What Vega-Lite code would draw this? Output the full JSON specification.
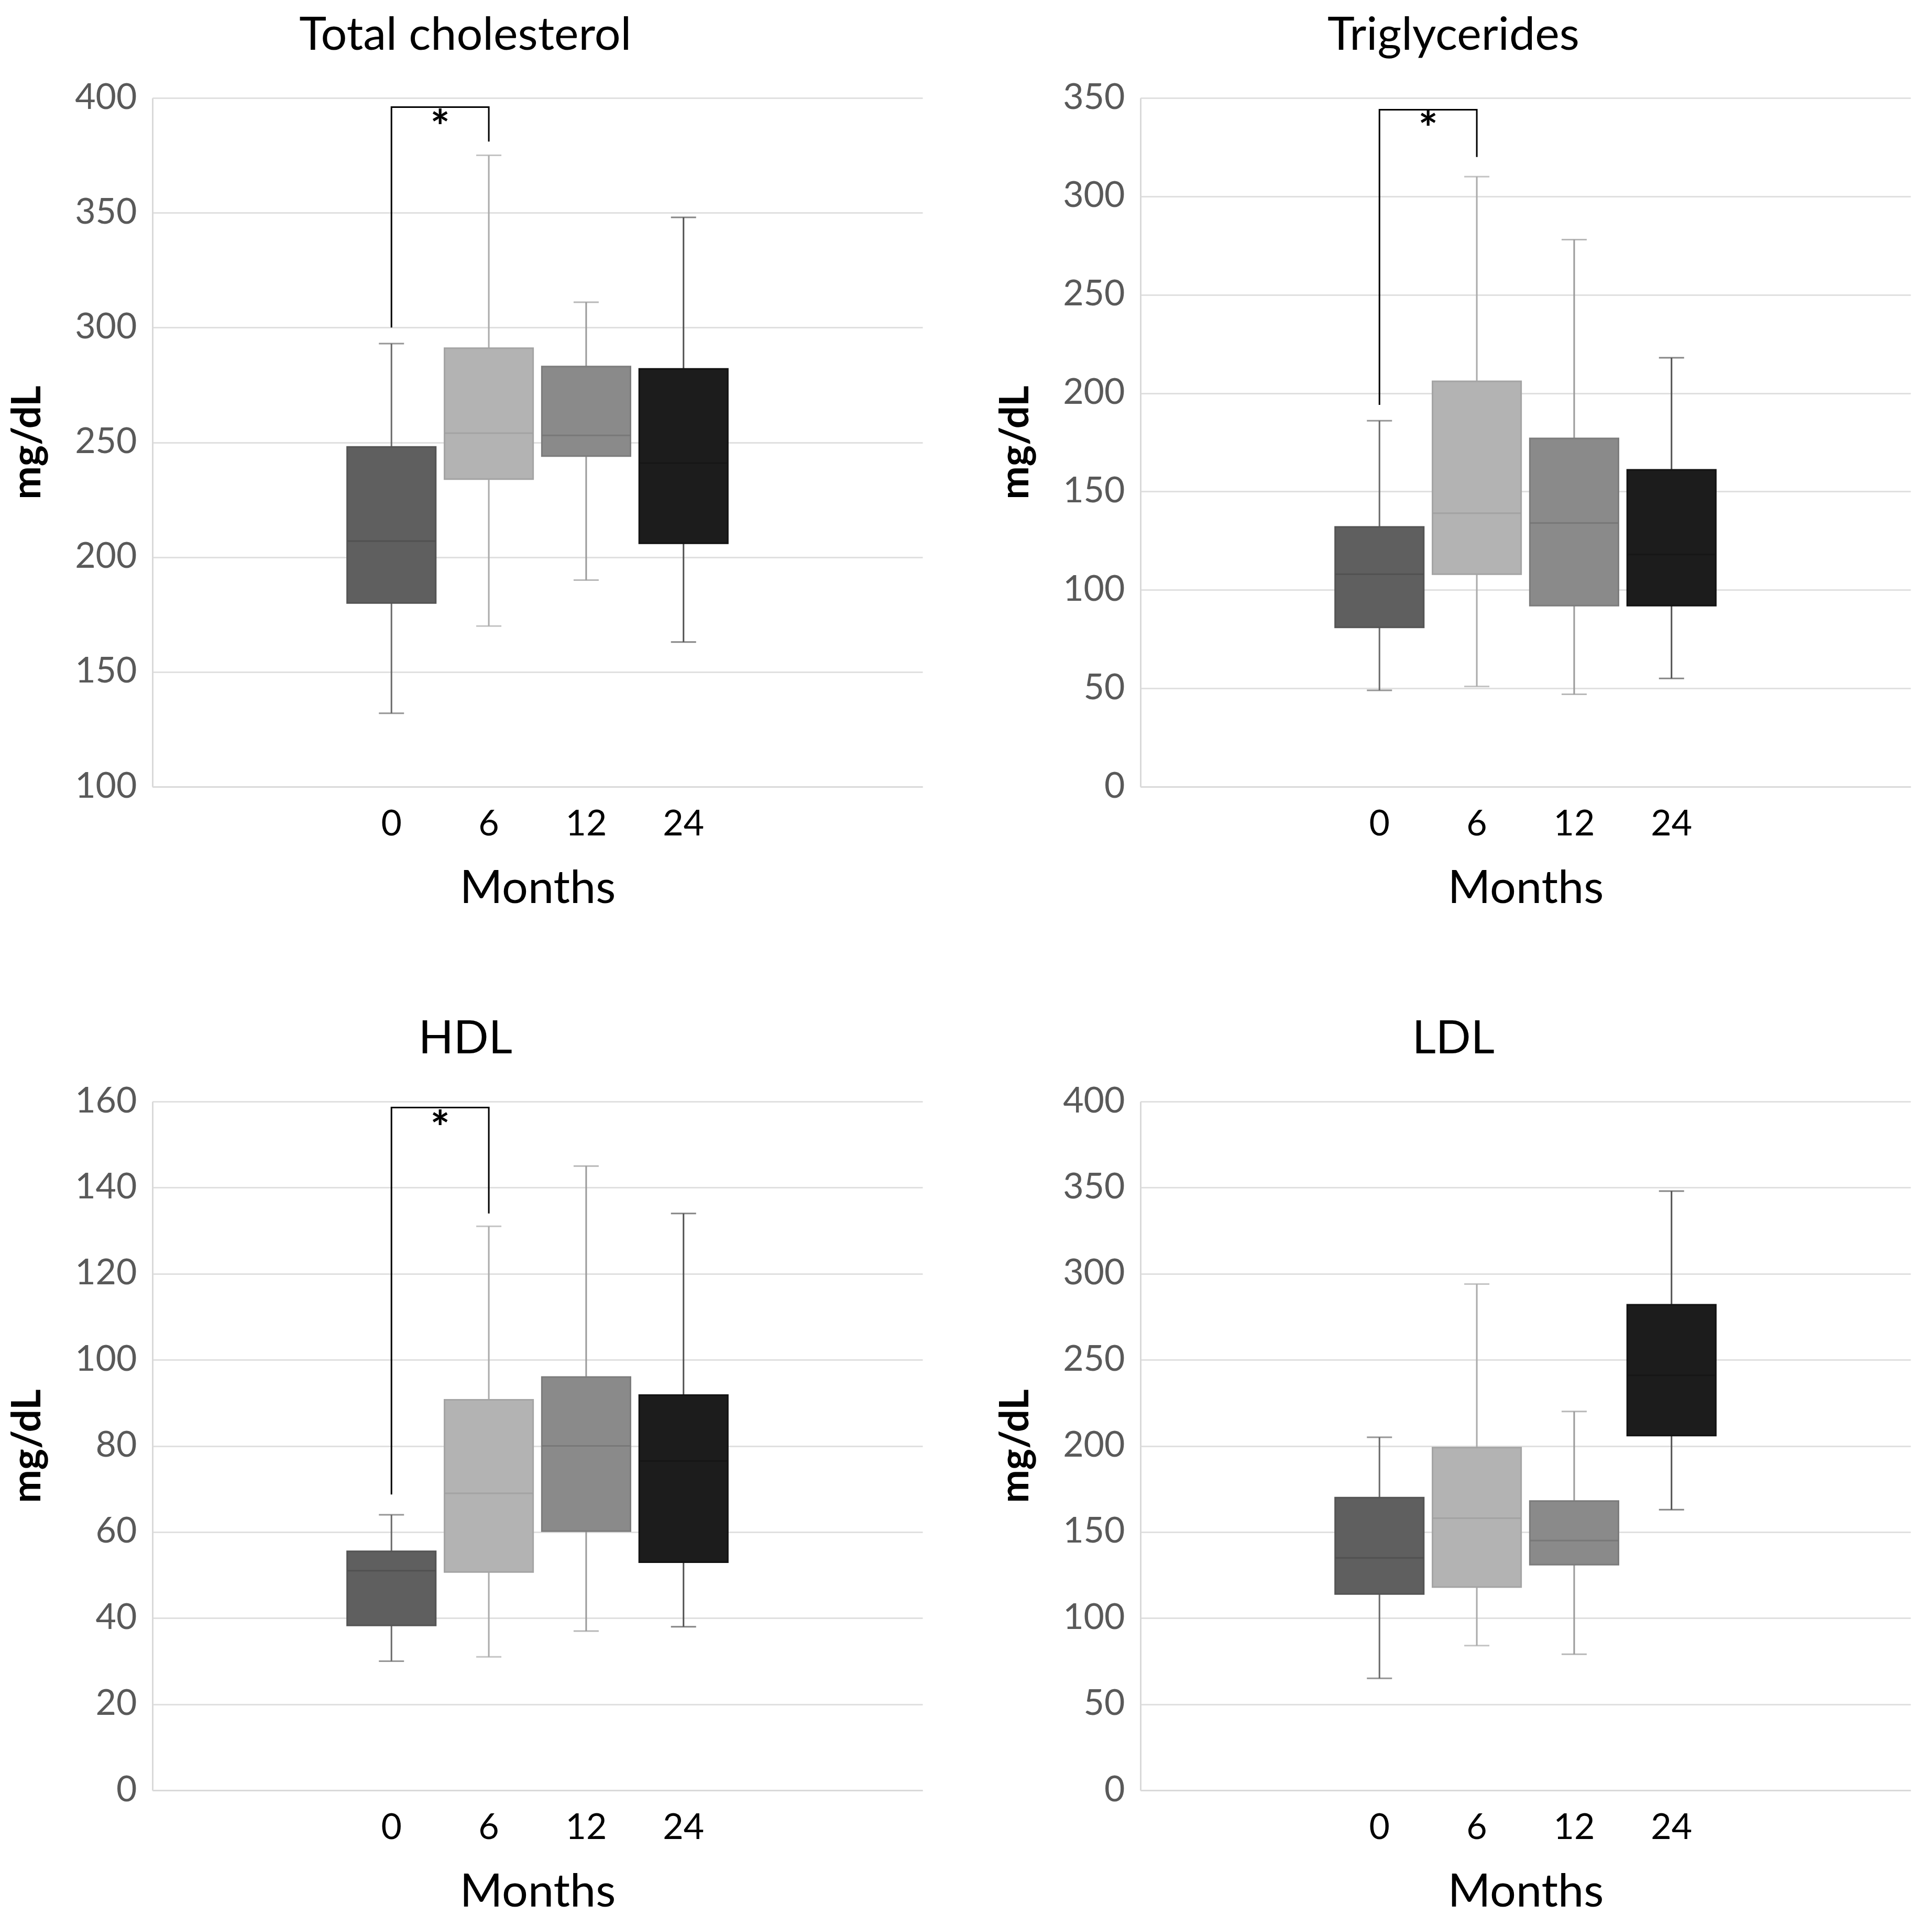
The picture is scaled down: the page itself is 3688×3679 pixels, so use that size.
{
  "$schema": "https://vega.github.io/schema/vega-lite/v6.json",
  "padding": {"left": 15, "top": 25, "right": 10, "bottom": 0},
  "background": "white",
  "datasets": {
    "box": [
      {"panel": "TC", "month": "0", "min": 132, "q1": 180, "median": 207, "q3": 248, "max": 293},
      {"panel": "TC", "month": "6", "min": 170, "q1": 234, "median": 254, "q3": 291, "max": 375},
      {"panel": "TC", "month": "12", "min": 190, "q1": 244, "median": 253, "q3": 283, "max": 311},
      {"panel": "TC", "month": "24", "min": 163, "q1": 206, "median": 241, "q3": 282, "max": 348},
      {"panel": "TG", "month": "0", "min": 49, "q1": 81, "median": 108, "q3": 132, "max": 186},
      {"panel": "TG", "month": "6", "min": 51, "q1": 108, "median": 139, "q3": 206, "max": 310},
      {"panel": "TG", "month": "12", "min": 47, "q1": 92, "median": 134, "q3": 177, "max": 278},
      {"panel": "TG", "month": "24", "min": 55, "q1": 92, "median": 118, "q3": 161, "max": 218},
      {"panel": "HDL", "month": "0", "min": 30, "q1": 38.3, "median": 51, "q3": 55.5, "max": 64},
      {"panel": "HDL", "month": "6", "min": 31, "q1": 50.7, "median": 69, "q3": 90.7, "max": 131},
      {"panel": "HDL", "month": "12", "min": 37, "q1": 60.2, "median": 80, "q3": 96, "max": 145},
      {"panel": "HDL", "month": "24", "min": 38, "q1": 53, "median": 76.5, "q3": 91.8, "max": 134},
      {"panel": "LDL", "month": "0", "min": 65, "q1": 114, "median": 135, "q3": 170, "max": 205},
      {"panel": "LDL", "month": "6", "min": 84, "q1": 118, "median": 158, "q3": 199, "max": 294},
      {"panel": "LDL", "month": "12", "min": 79, "q1": 131, "median": 145, "q3": 168, "max": 220},
      {"panel": "LDL", "month": "24", "min": 163, "q1": 206, "median": 241, "q3": 282, "max": 348}
    ],
    "bracket": [
      {"panel": "TC", "month": "0", "y": 300, "ord": 1},
      {"panel": "TC", "month": "0", "y": 396, "ord": 2},
      {"panel": "TC", "month": "6", "y": 396, "ord": 3},
      {"panel": "TC", "month": "6", "y": 381, "ord": 4},
      {"panel": "TG", "month": "0", "y": 194, "ord": 1},
      {"panel": "TG", "month": "0", "y": 344, "ord": 2},
      {"panel": "TG", "month": "6", "y": 344, "ord": 3},
      {"panel": "TG", "month": "6", "y": 320, "ord": 4},
      {"panel": "HDL", "month": "0", "y": 68.7, "ord": 1},
      {"panel": "HDL", "month": "0", "y": 158.6, "ord": 2},
      {"panel": "HDL", "month": "6", "y": 158.6, "ord": 3},
      {"panel": "HDL", "month": "6", "y": 134, "ord": 4}
    ],
    "star": [
      {"panel": "TC", "month": "0", "y": 386, "label": "*"},
      {"panel": "TG", "month": "0", "y": 333, "label": "*"},
      {"panel": "HDL", "month": "0", "y": 153.2, "label": "*"}
    ]
  },
  "columns": 2,
  "spacing": {"row": 200, "column": 140},
  "concat": [
    {
      "title": "Total cholesterol",
      "width": 1470, "height": 1315,
      "resolve": {"scale": {"color": "independent", "fill": "independent", "stroke": "independent"}},
      "layer": [
        {
          "data": {"name": "box"}, "transform": [{"filter": "datum.panel === 'TC'"}],
          "mark": {"type": "rule", "strokeWidth": 3},
          "encoding": {
            "x": {"field": "month", "type": "ordinal", "title": "Months", "scale": {"type": "band", "domain": ["L2", "L1", "0", "6", "12", "24", "R1", "R2"], "paddingInner": 0.09, "paddingOuter": 0}, "axis": {"labelAngle": 0, "values": ["0", "6", "12", "24"]}},
            "y": {"field": "min", "type": "quantitative", "title": "mg/dL", "scale": {"domain": [100, 400], "nice": false, "zero": false}, "axis": {"values": [100, 150, 200, 250, 300, 350, 400]}},
            "y2": {"field": "max"},
            "color": {"field": "month", "type": "nominal", "scale": {"domain": ["0", "6", "12", "24"], "range": ["#6a6a6a", "#ababab", "#9a9a9a", "#525252"]}, "legend": null}
          }
        },
        {
          "data": {"name": "box"}, "transform": [{"filter": "datum.panel === 'TC'"}],
          "mark": {"type": "tick", "size": 48, "thickness": 3},
          "encoding": {
            "x": {"field": "month", "type": "ordinal", "title": "Months"},
            "y": {"field": "min", "type": "quantitative", "title": "mg/dL"},
            "color": {"field": "month", "type": "nominal", "scale": {"domain": ["0", "6", "12", "24"], "range": ["#6a6a6a", "#ababab", "#9a9a9a", "#525252"]}, "legend": null}
          }
        },
        {
          "data": {"name": "box"}, "transform": [{"filter": "datum.panel === 'TC'"}],
          "mark": {"type": "tick", "size": 48, "thickness": 3},
          "encoding": {
            "x": {"field": "month", "type": "ordinal", "title": "Months"},
            "y": {"field": "max", "type": "quantitative", "title": "mg/dL"},
            "color": {"field": "month", "type": "nominal", "scale": {"domain": ["0", "6", "12", "24"], "range": ["#6a6a6a", "#ababab", "#9a9a9a", "#525252"]}, "legend": null}
          }
        },
        {
          "data": {"name": "box"}, "transform": [{"filter": "datum.panel === 'TC'"}],
          "mark": {"type": "bar", "strokeWidth": 3},
          "encoding": {
            "x": {"field": "month", "type": "ordinal", "title": "Months"},
            "y": {"field": "q1", "type": "quantitative", "title": "mg/dL"},
            "y2": {"field": "q3"},
            "fill": {"field": "month", "type": "nominal", "scale": {"domain": ["0", "6", "12", "24"], "range": ["#5f5f5f", "#b3b3b3", "#8a8a8a", "#1c1c1c"]}, "legend": null},
            "stroke": {"field": "month", "type": "nominal", "scale": {"domain": ["0", "6", "12", "24"], "range": ["#545454", "#a4a4a4", "#7c7c7c", "#121212"]}, "legend": null}
          }
        },
        {
          "data": {"name": "box"}, "transform": [{"filter": "datum.panel === 'TC'"}],
          "mark": {"type": "tick", "size": 168, "thickness": 3},
          "encoding": {
            "x": {"field": "month", "type": "ordinal", "title": "Months"},
            "y": {"field": "median", "type": "quantitative", "title": "mg/dL"},
            "color": {"field": "month", "type": "nominal", "scale": {"domain": ["0", "6", "12", "24"], "range": ["#4c4c4c", "#9c9c9c", "#707070", "#141414"]}, "legend": null}
          }
        },
        {
          "data": {"name": "bracket"}, "transform": [{"filter": "datum.panel === 'TC'"}],
          "mark": {"type": "line", "color": "black", "strokeWidth": 3},
          "encoding": {
            "x": {"field": "month", "type": "ordinal", "title": "Months"},
            "y": {"field": "y", "type": "quantitative", "title": "mg/dL"},
            "order": {"field": "ord", "type": "quantitative"}
          }
        },
        {
          "data": {"name": "star"}, "transform": [{"filter": "datum.panel === 'TC'"}],
          "mark": {"type": "text", "fontSize": 88, "fontWeight": "bold", "color": "black", "baseline": "middle", "dx": 93},
          "encoding": {
            "x": {"field": "month", "type": "ordinal", "title": "Months"},
            "y": {"field": "y", "type": "quantitative", "title": "mg/dL"},
            "text": {"field": "label"}
          }
        }
      ]
    },
    {
      "title": "Triglycerides",
      "width": 1470, "height": 1315,
      "resolve": {"scale": {"color": "independent", "fill": "independent", "stroke": "independent"}},
      "layer": [
        {
          "data": {"name": "box"}, "transform": [{"filter": "datum.panel === 'TG'"}],
          "mark": {"type": "rule", "strokeWidth": 3},
          "encoding": {
            "x": {"field": "month", "type": "ordinal", "title": "Months", "scale": {"type": "band", "domain": ["L2", "L1", "0", "6", "12", "24", "R1", "R2"], "paddingInner": 0.09, "paddingOuter": 0}, "axis": {"labelAngle": 0, "values": ["0", "6", "12", "24"]}},
            "y": {"field": "min", "type": "quantitative", "title": "mg/dL", "scale": {"domain": [0, 350], "nice": false}, "axis": {"values": [0, 50, 100, 150, 200, 250, 300, 350]}},
            "y2": {"field": "max"},
            "color": {"field": "month", "type": "nominal", "scale": {"domain": ["0", "6", "12", "24"], "range": ["#6a6a6a", "#ababab", "#9a9a9a", "#525252"]}, "legend": null}
          }
        },
        {
          "data": {"name": "box"}, "transform": [{"filter": "datum.panel === 'TG'"}],
          "mark": {"type": "tick", "size": 48, "thickness": 3},
          "encoding": {
            "x": {"field": "month", "type": "ordinal", "title": "Months"},
            "y": {"field": "min", "type": "quantitative", "title": "mg/dL"},
            "color": {"field": "month", "type": "nominal", "scale": {"domain": ["0", "6", "12", "24"], "range": ["#6a6a6a", "#ababab", "#9a9a9a", "#525252"]}, "legend": null}
          }
        },
        {
          "data": {"name": "box"}, "transform": [{"filter": "datum.panel === 'TG'"}],
          "mark": {"type": "tick", "size": 48, "thickness": 3},
          "encoding": {
            "x": {"field": "month", "type": "ordinal", "title": "Months"},
            "y": {"field": "max", "type": "quantitative", "title": "mg/dL"},
            "color": {"field": "month", "type": "nominal", "scale": {"domain": ["0", "6", "12", "24"], "range": ["#6a6a6a", "#ababab", "#9a9a9a", "#525252"]}, "legend": null}
          }
        },
        {
          "data": {"name": "box"}, "transform": [{"filter": "datum.panel === 'TG'"}],
          "mark": {"type": "bar", "strokeWidth": 3},
          "encoding": {
            "x": {"field": "month", "type": "ordinal", "title": "Months"},
            "y": {"field": "q1", "type": "quantitative", "title": "mg/dL"},
            "y2": {"field": "q3"},
            "fill": {"field": "month", "type": "nominal", "scale": {"domain": ["0", "6", "12", "24"], "range": ["#5f5f5f", "#b3b3b3", "#8a8a8a", "#1c1c1c"]}, "legend": null},
            "stroke": {"field": "month", "type": "nominal", "scale": {"domain": ["0", "6", "12", "24"], "range": ["#545454", "#a4a4a4", "#7c7c7c", "#121212"]}, "legend": null}
          }
        },
        {
          "data": {"name": "box"}, "transform": [{"filter": "datum.panel === 'TG'"}],
          "mark": {"type": "tick", "size": 168, "thickness": 3},
          "encoding": {
            "x": {"field": "month", "type": "ordinal", "title": "Months"},
            "y": {"field": "median", "type": "quantitative", "title": "mg/dL"},
            "color": {"field": "month", "type": "nominal", "scale": {"domain": ["0", "6", "12", "24"], "range": ["#4c4c4c", "#9c9c9c", "#707070", "#141414"]}, "legend": null}
          }
        },
        {
          "data": {"name": "bracket"}, "transform": [{"filter": "datum.panel === 'TG'"}],
          "mark": {"type": "line", "color": "black", "strokeWidth": 3},
          "encoding": {
            "x": {"field": "month", "type": "ordinal", "title": "Months"},
            "y": {"field": "y", "type": "quantitative", "title": "mg/dL"},
            "order": {"field": "ord", "type": "quantitative"}
          }
        },
        {
          "data": {"name": "star"}, "transform": [{"filter": "datum.panel === 'TG'"}],
          "mark": {"type": "text", "fontSize": 88, "fontWeight": "bold", "color": "black", "baseline": "middle", "dx": 93},
          "encoding": {
            "x": {"field": "month", "type": "ordinal", "title": "Months"},
            "y": {"field": "y", "type": "quantitative", "title": "mg/dL"},
            "text": {"field": "label"}
          }
        }
      ]
    },
    {
      "title": "HDL",
      "width": 1470, "height": 1315,
      "resolve": {"scale": {"color": "independent", "fill": "independent", "stroke": "independent"}},
      "layer": [
        {
          "data": {"name": "box"}, "transform": [{"filter": "datum.panel === 'HDL'"}],
          "mark": {"type": "rule", "strokeWidth": 3},
          "encoding": {
            "x": {"field": "month", "type": "ordinal", "title": "Months", "scale": {"type": "band", "domain": ["L2", "L1", "0", "6", "12", "24", "R1", "R2"], "paddingInner": 0.09, "paddingOuter": 0}, "axis": {"labelAngle": 0, "values": ["0", "6", "12", "24"]}},
            "y": {"field": "min", "type": "quantitative", "title": "mg/dL", "scale": {"domain": [0, 160], "nice": false}, "axis": {"values": [0, 20, 40, 60, 80, 100, 120, 140, 160]}},
            "y2": {"field": "max"},
            "color": {"field": "month", "type": "nominal", "scale": {"domain": ["0", "6", "12", "24"], "range": ["#6a6a6a", "#ababab", "#9a9a9a", "#525252"]}, "legend": null}
          }
        },
        {
          "data": {"name": "box"}, "transform": [{"filter": "datum.panel === 'HDL'"}],
          "mark": {"type": "tick", "size": 48, "thickness": 3},
          "encoding": {
            "x": {"field": "month", "type": "ordinal", "title": "Months"},
            "y": {"field": "min", "type": "quantitative", "title": "mg/dL"},
            "color": {"field": "month", "type": "nominal", "scale": {"domain": ["0", "6", "12", "24"], "range": ["#6a6a6a", "#ababab", "#9a9a9a", "#525252"]}, "legend": null}
          }
        },
        {
          "data": {"name": "box"}, "transform": [{"filter": "datum.panel === 'HDL'"}],
          "mark": {"type": "tick", "size": 48, "thickness": 3},
          "encoding": {
            "x": {"field": "month", "type": "ordinal", "title": "Months"},
            "y": {"field": "max", "type": "quantitative", "title": "mg/dL"},
            "color": {"field": "month", "type": "nominal", "scale": {"domain": ["0", "6", "12", "24"], "range": ["#6a6a6a", "#ababab", "#9a9a9a", "#525252"]}, "legend": null}
          }
        },
        {
          "data": {"name": "box"}, "transform": [{"filter": "datum.panel === 'HDL'"}],
          "mark": {"type": "bar", "strokeWidth": 3},
          "encoding": {
            "x": {"field": "month", "type": "ordinal", "title": "Months"},
            "y": {"field": "q1", "type": "quantitative", "title": "mg/dL"},
            "y2": {"field": "q3"},
            "fill": {"field": "month", "type": "nominal", "scale": {"domain": ["0", "6", "12", "24"], "range": ["#5f5f5f", "#b3b3b3", "#8a8a8a", "#1c1c1c"]}, "legend": null},
            "stroke": {"field": "month", "type": "nominal", "scale": {"domain": ["0", "6", "12", "24"], "range": ["#545454", "#a4a4a4", "#7c7c7c", "#121212"]}, "legend": null}
          }
        },
        {
          "data": {"name": "box"}, "transform": [{"filter": "datum.panel === 'HDL'"}],
          "mark": {"type": "tick", "size": 168, "thickness": 3},
          "encoding": {
            "x": {"field": "month", "type": "ordinal", "title": "Months"},
            "y": {"field": "median", "type": "quantitative", "title": "mg/dL"},
            "color": {"field": "month", "type": "nominal", "scale": {"domain": ["0", "6", "12", "24"], "range": ["#4c4c4c", "#9c9c9c", "#707070", "#141414"]}, "legend": null}
          }
        },
        {
          "data": {"name": "bracket"}, "transform": [{"filter": "datum.panel === 'HDL'"}],
          "mark": {"type": "line", "color": "black", "strokeWidth": 3},
          "encoding": {
            "x": {"field": "month", "type": "ordinal", "title": "Months"},
            "y": {"field": "y", "type": "quantitative", "title": "mg/dL"},
            "order": {"field": "ord", "type": "quantitative"}
          }
        },
        {
          "data": {"name": "star"}, "transform": [{"filter": "datum.panel === 'HDL'"}],
          "mark": {"type": "text", "fontSize": 88, "fontWeight": "bold", "color": "black", "baseline": "middle", "dx": 93},
          "encoding": {
            "x": {"field": "month", "type": "ordinal", "title": "Months"},
            "y": {"field": "y", "type": "quantitative", "title": "mg/dL"},
            "text": {"field": "label"}
          }
        }
      ]
    },
    {
      "title": "LDL",
      "width": 1470, "height": 1315,
      "resolve": {"scale": {"color": "independent", "fill": "independent", "stroke": "independent"}},
      "layer": [
        {
          "data": {"name": "box"}, "transform": [{"filter": "datum.panel === 'LDL'"}],
          "mark": {"type": "rule", "strokeWidth": 3},
          "encoding": {
            "x": {"field": "month", "type": "ordinal", "title": "Months", "scale": {"type": "band", "domain": ["L2", "L1", "0", "6", "12", "24", "R1", "R2"], "paddingInner": 0.09, "paddingOuter": 0}, "axis": {"labelAngle": 0, "values": ["0", "6", "12", "24"]}},
            "y": {"field": "min", "type": "quantitative", "title": "mg/dL", "scale": {"domain": [0, 400], "nice": false}, "axis": {"values": [0, 50, 100, 150, 200, 250, 300, 350, 400]}},
            "y2": {"field": "max"},
            "color": {"field": "month", "type": "nominal", "scale": {"domain": ["0", "6", "12", "24"], "range": ["#6a6a6a", "#ababab", "#9a9a9a", "#525252"]}, "legend": null}
          }
        },
        {
          "data": {"name": "box"}, "transform": [{"filter": "datum.panel === 'LDL'"}],
          "mark": {"type": "tick", "size": 48, "thickness": 3},
          "encoding": {
            "x": {"field": "month", "type": "ordinal", "title": "Months"},
            "y": {"field": "min", "type": "quantitative", "title": "mg/dL"},
            "color": {"field": "month", "type": "nominal", "scale": {"domain": ["0", "6", "12", "24"], "range": ["#6a6a6a", "#ababab", "#9a9a9a", "#525252"]}, "legend": null}
          }
        },
        {
          "data": {"name": "box"}, "transform": [{"filter": "datum.panel === 'LDL'"}],
          "mark": {"type": "tick", "size": 48, "thickness": 3},
          "encoding": {
            "x": {"field": "month", "type": "ordinal", "title": "Months"},
            "y": {"field": "max", "type": "quantitative", "title": "mg/dL"},
            "color": {"field": "month", "type": "nominal", "scale": {"domain": ["0", "6", "12", "24"], "range": ["#6a6a6a", "#ababab", "#9a9a9a", "#525252"]}, "legend": null}
          }
        },
        {
          "data": {"name": "box"}, "transform": [{"filter": "datum.panel === 'LDL'"}],
          "mark": {"type": "bar", "strokeWidth": 3},
          "encoding": {
            "x": {"field": "month", "type": "ordinal", "title": "Months"},
            "y": {"field": "q1", "type": "quantitative", "title": "mg/dL"},
            "y2": {"field": "q3"},
            "fill": {"field": "month", "type": "nominal", "scale": {"domain": ["0", "6", "12", "24"], "range": ["#5f5f5f", "#b3b3b3", "#8a8a8a", "#1c1c1c"]}, "legend": null},
            "stroke": {"field": "month", "type": "nominal", "scale": {"domain": ["0", "6", "12", "24"], "range": ["#545454", "#a4a4a4", "#7c7c7c", "#121212"]}, "legend": null}
          }
        },
        {
          "data": {"name": "box"}, "transform": [{"filter": "datum.panel === 'LDL'"}],
          "mark": {"type": "tick", "size": 168, "thickness": 3},
          "encoding": {
            "x": {"field": "month", "type": "ordinal", "title": "Months"},
            "y": {"field": "median", "type": "quantitative", "title": "mg/dL"},
            "color": {"field": "month", "type": "nominal", "scale": {"domain": ["0", "6", "12", "24"], "range": ["#4c4c4c", "#9c9c9c", "#707070", "#141414"]}, "legend": null}
          }
        }
      ]
    }
  ],
  "config": {
    "font": "Lato",
    "view": {"stroke": null},
    "title": {"fontSize": 88, "fontWeight": "normal", "color": "#000000", "anchor": "middle", "frame": "bounds", "offset": 40},
    "axis": {
      "ticks": false,
      "domainColor": "#d9d9d9",
      "domainWidth": 3,
      "gridColor": "#e0e0e0",
      "gridWidth": 3,
      "labelFontSize": 68,
      "labelPadding": 30
    },
    "axisY": {
      "grid": true,
      "labelColor": "#595959",
      "titleFontSize": 76,
      "titleFontWeight": "bold",
      "titleColor": "#000000",
      "titlePadding": 50
    },
    "axisX": {
      "grid": false,
      "labelColor": "#000000",
      "labelPadding": 38,
      "titleFontSize": 88,
      "titleFontWeight": "normal",
      "titleColor": "#000000",
      "titlePadding": 45
    }
  }
}
